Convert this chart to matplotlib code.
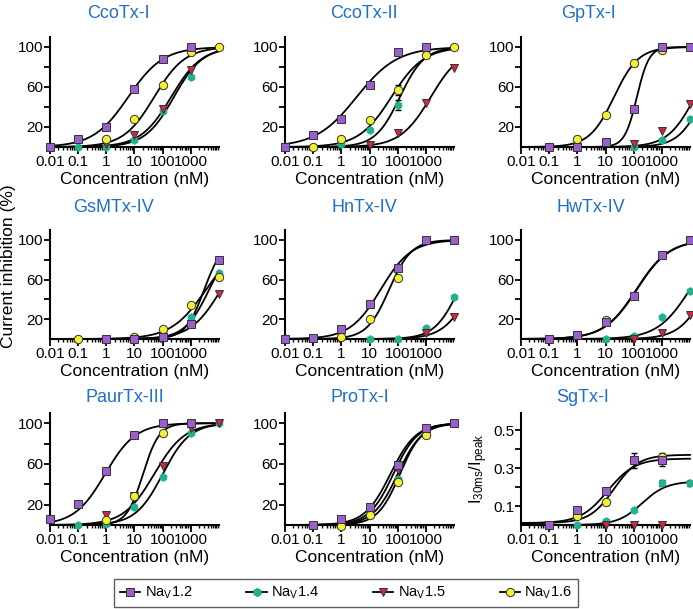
import numpy as np
import matplotlib
matplotlib.use('Agg')
import matplotlib.pyplot as plt
from matplotlib.lines import Line2D

plt.rcParams['font.family'] = ['Liberation Sans', 'DejaVu Sans']
plt.rcParams['mathtext.default'] = 'regular'

# concentrations (nM)
conc = [0.01, 0.1, 1, 10, 100, 1000, 10000]

channels = ['Na$_{V}$1.2', 'Na$_{V}$1.4', 'Na$_{V}$1.5', 'Na$_{V}$1.6']
colors = ['#9a5fcc', '#23b08f', '#d0283f', '#f5f032']
markers = ['s', 'h', 'v', 'o']

toxins = ['CcoTx-I', 'CcoTx-II', 'GpTx-I',
          'GsMTx-IV', 'HnTx-IV', 'HwTx-IV',
          'PaurTx-III', 'ProTx-I', 'SgTx-I']

# measured points per toxin, per channel (None = not tested)
ccotx1 = [[0, 8, 20, 58, 88, 100, None],
          [None, 0, 0, 7, 36, 70, 100],
          [None, None, 3, 12, 38, 77, None],
          [None, None, 8, 28, 62, 95, 100]]
ccotx2 = [[0, 12, 28, 62, 95, 100, None],
          [None, 0, 3, 17, 42, 92, 100],
          [None, None, None, 2, 14, 44, 79],
          [None, 0, 8, 27, 57, 92, 100]]
gptx1 = [[None, 0, 0, 5, 38, 100, 100],
         [None, None, None, None, 0, 7, 28],
         [None, None, None, None, 3, 16, 43],
         [None, 0, 8, 32, 84, 97, None]]
gsmtx4 = [[None, None, 0, 0, 2, 15, 80],
          [None, None, None, None, 8, 22, 67],
          [None, None, None, None, None, None, 45],
          [None, 0, None, 2, 10, 34, 63]]
hntx4 = [[0, 1, 10, 35, 72, 100, 100],
         [None, None, None, 0, 0, 11, 42],
         [None, None, None, None, None, 6, 22],
         [None, None, 2, 20, 62, None, None]]
hwtx4 = [[None, 0, 4, 17, 43, 85, 100],
         [None, None, None, 0, 3, 22, 48],
         [None, None, None, None, 0, 6, 24],
         [None, None, None, 19, None, None, None]]
paurtx3 = [[6, 21, 53, 88, 100, 100, None],
           [None, 0, 1, 18, 47, 90, 100],
           [None, None, 10, 28, 58, 95, 100],
           [None, None, 5, 28, 90, None, None]]
protx1 = [[None, 0, 6, 18, 59, 95, 100],
          [None, None, None, 12, 45, None, None],
          [None, None, None, None, 54, None, None],
          [None, None, -1, 10, 42, 88, None]]
sgtx1 = [[None, 0, 0.08, 0.18, 0.34, 0.34, None],
         [None, None, 0, 0.02, 0.08, 0.22, 0.22],
         [None, None, None, 0, 0, 0, None],
         [None, None, 0.05, 0.12, 0.34, 0.36, None]]
points = [ccotx1, ccotx2, gptx1, gsmtx4, hntx4, hwtx4, paurtx3, protx1, sgtx1]

# fitted Hill parameters per toxin, per channel: (IC50 nM, nH, bottom, top)
fits = [
    [(6, 0.7, 0, 100), (250, 0.85, 0, 100), (200, 0.8, 0, 100), (50, 0.8, 0, 100)],
    [(3.5, 0.6, 0, 100), (120, 1.0, 0, 100), (1500, 0.8, 0, 100), (60, 0.75, 0, 100)],
    [(130, 2.0, 0, 100), (30000, 1.0, 0, 100), (15000, 0.9, 0, 100), (20, 1.0, 0, 100)],
    [(3000, 1.3, 0, 100), (4500, 1.0, 0, 100), (12000, 0.8, 0, 100), (3500, 0.7, 0, 100)],
    [(25, 0.8, 0, 100), (15000, 1.0, 0, 100), (40000, 0.9, 0, 100), (50, 1.1, 0, 100)],
    [(130, 0.75, 0, 100), (10000, 0.75, 0, 100), (40000, 0.9, 0, 100), (125, 0.75, 0, 100)],
    [(0.9, 0.8, 0, 100), (100, 0.9, 0, 100), (50, 0.8, 0, 100), (20, 1.5, 0, 100)],
    [(55, 0.95, 0, 100), (100, 1.0, 0, 100), (70, 1.0, 0, 100), (120, 1.1, 0, 100)],
    [(12, 0.9, 0.01, 0.35), (200, 1.0, 0, 0.23), (1000, 1.0, 0, 0.0), (20, 1.0, 0.01, 0.37)],
]

# visible error bars: (panel, channel, conc index, err)
errbars = [(1, 1, 4, 5), (1, 3, 4, 5), (0, 3, 4, 3), (2, 3, 4, 3),
           (8, 0, 4, 0.04), (8, 0, 5, 0.03), (8, 3, 5, 0.02), (8, 1, 5, 0.015),
           (8, 1, 6, 0.015), (8, 0, 3, 0.015), (8, 3, 3, 0.015)]

W, H = 693, 609
fig = plt.figure(figsize=(W / 100, H / 100), dpi=100)

col_left = [50, 285, 521]
ax_w = 169
row_top = [37, 230, 413]
row_bot = [147, 339, 525]
title_x = [118, 364, 588, 114, 364, 591, 125, 360, 583]
title_y = [13, 208, 398]

xs = np.logspace(-2, 4, 300)

for i, name in enumerate(toxins):
    r, c = divmod(i, 3)
    ax = fig.add_axes([col_left[c] / W, 1 - row_bot[r] / H,
                       ax_w / W, (row_bot[r] - row_top[r]) / H])
    ax.set_xscale('log')
    ax.set_xlim(0.01, 10000)
    sg = name == 'SgTx-I'
    if sg:
        ax.set_ylim(0, 0.59)
        ax.set_yticks([0.1, 0.2, 0.3, 0.4, 0.5])
        ax.set_yticklabels(['0.1', '', '0.3', '', '0.5'])
        ax.set_ylabel('I$_{30ms}$/I$_{peak}$', fontsize=12, labelpad=2)
    else:
        ax.set_ylim(0, 110)
        ax.set_yticks([20, 40, 60, 80, 100])
        ax.set_yticklabels(['20', '', '60', '', '100'])
    ax.set_xticks([0.01, 0.1, 1, 10, 100, 1000])
    ax.set_xticklabels(['0.01', '0.1', '1', '10', '100', '1000'])
    ax.xaxis.set_minor_locator(matplotlib.ticker.LogLocator(base=10, subs=np.arange(2, 10), numticks=20))
    ax.xaxis.set_minor_formatter(matplotlib.ticker.NullFormatter())
    ax.tick_params(axis='both', which='major', labelsize=11, width=1.3, length=4, pad=1)
    ax.tick_params(axis='x', which='minor', width=1.0, length=2.5)
    ax.tick_params(axis='x', which='major', length=5)
    for s in ['top', 'right']:
        ax.spines[s].set_visible(False)
    for s in ['left', 'bottom']:
        ax.spines[s].set_linewidth(1.5)
    ax.set_xlabel('Concentration (nM)', fontsize=12.5, labelpad=2)

    for k in range(4):
        ic50, nh, bot, top = fits[i][k]
        if top > 0:
            yfit = bot + (top - bot) / (1 + (ic50 / xs) ** nh)
            ax.plot(xs, yfit, color='black', lw=1.3, zorder=2, clip_on=False)
        else:
            ax.plot(xs, np.zeros_like(xs), color='black', lw=1.3, zorder=2)
    for k in [1, 2, 3, 0]:
        xp = [x for x, y in zip(conc, points[i][k]) if y is not None]
        yp = [y for y in points[i][k] if y is not None]
        ax.plot(xp, yp, ls='none', marker=markers[k], ms=6 if k != 1 else 5.5,
                mfc=colors[k], mec='#333333' if k != 1 else colors[k], mew=0.7,
                zorder=4, clip_on=False)
    for (p, k, j, e) in errbars:
        if p == i:
            ax.errorbar([conc[j]], [points[i][k][j]], yerr=[e], fmt='none',
                        ecolor='black', elinewidth=1, capsize=2.5, zorder=3)
    fig.text(title_x[i] / W, 1 - title_y[r] / H, name, color='#1f6fcc',
             fontsize=13, ha='center', va='center')

fig.text(9 / W, 1 - 266 / H, 'Current inhibition (%)', rotation=90,
         fontsize=12.5, ha='center', va='center')

handles = [Line2D([0], [0], color='black', lw=1.3, marker=markers[k],
                  mfc=colors[k], mec='#333333' if k != 1 else colors[k],
                  ms=6, mew=0.7) for k in range(4)]
leg = fig.legend(handles, channels, loc='center', ncol=4,
                 bbox_to_anchor=(346 / W, 1 - 593 / H), fontsize=10.5,
                 frameon=True, fancybox=False, edgecolor='#333333',
                 handlelength=1.4, columnspacing=3.7, handletextpad=0.3,
                 borderpad=0.4)
leg.get_frame().set_linewidth(1.0)

fig.savefig('out.png', dpi=100)
